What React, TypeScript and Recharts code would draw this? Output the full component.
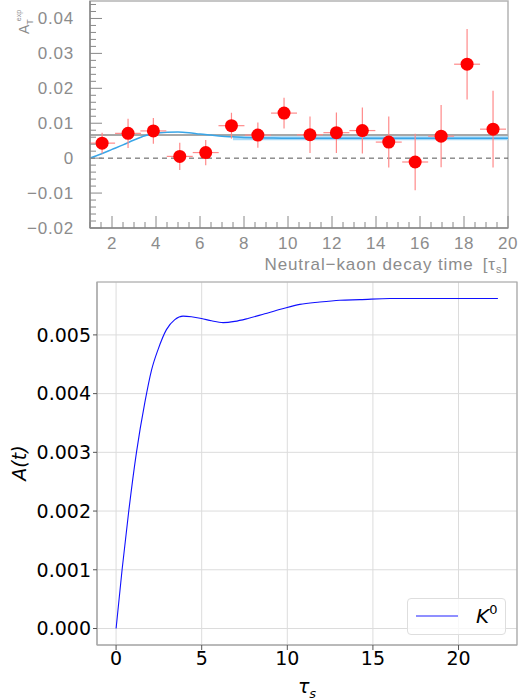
import React from 'react';
import {
  ComposedChart,
  LineChart,
  Line,
  Scatter,
  XAxis,
  YAxis,
  CartesianGrid,
  ReferenceLine,
  ReferenceArea,
  ErrorBar,
  Legend,
} from 'recharts';

// top panel: measured asymmetry per decay-time bin
const binCenters = [1.55, 2.73, 3.88, 5.08, 6.26, 7.43, 8.63, 9.82, 11.0, 12.2, 13.38, 14.58, 15.78, 16.96, 18.14, 19.32];
const asymmetry = [0.0043, 0.0071, 0.0078, 0.0005, 0.0016, 0.0093, 0.0066, 0.0129, 0.0067, 0.0073, 0.0079, 0.0046, -0.0011, 0.0063, 0.0269, 0.0083];
const asymmetryErr = [0.003, 0.0042, 0.0037, 0.0039, 0.0036, 0.0037, 0.0036, 0.0044, 0.0052, 0.0058, 0.0066, 0.0073, 0.0081, 0.0089, 0.0101, 0.011];
const binHalfWidth = 0.59;

// top panel: expected curve and levels
const fitTime = [1, 1.5, 2, 2.5, 3, 3.5, 4, 4.5, 5, 5.5, 6, 6.5, 7, 7.5, 8, 9, 10, 20];
const fitValue = [0, 0.0012, 0.0025, 0.0038, 0.0052, 0.0064, 0.0071, 0.0074, 0.0075, 0.0073, 0.0069, 0.0066, 0.0063, 0.0061, 0.0059, 0.0058, 0.0057, 0.0057];
const bandTime = [7.5, 20];
const bandLevel = 0.0057;
const meanLevel = 0.00665;

const topMajorX = [2, 4, 6, 8, 10, 12, 14, 16, 18, 20];

// bottom panel: A(t) for K0
const tauS = [0, 0.35, 0.74, 1.19, 1.68, 2.07, 2.45, 2.94, 3.43, 3.91, 4.4, 4.99, 5.57, 6.25, 6.93, 7.7, 8.68, 9.66, 10.73, 11.9, 13.07, 14.24, 16, 18, 20, 22.3];
const aT = [0, 0.001, 0.002, 0.003, 0.00385, 0.0044, 0.00475, 0.00509, 0.00526, 0.00532, 0.00531, 0.00528, 0.00524, 0.00521, 0.00523, 0.00528, 0.00536, 0.00544, 0.00552, 0.00556, 0.00559, 0.0056, 0.00562, 0.00562, 0.00562, 0.00562];
const bottomXTicks = [0, 5, 10, 15, 20];
const bottomYTicks = [0, 0.001, 0.002, 0.003, 0.004, 0.005];

const points = binCenters.map((x, i) => ({ x, y: asymmetry[i], ex: binHalfWidth, ey: asymmetryErr[i] }));
const fitData = fitTime.map((x, i) => ({ x, y: fitValue[i] }));
const bandData = bandTime.map((x) => ({ x, y: bandLevel }));
const kaonData = tauS.map((t, i) => ({ t, a: aT[i] }));

const topXTicks: number[] = [];
for (let i = 0; i <= 38; i++) topXTicks.push(1 + i * 0.5);
const topYTicks: number[] = [];
for (let i = -10; i <= 22; i++) topYTicks.push(Math.round(i * 2) / 1000);

const ROOT_GRAY = '#8c8c8c';
const ROOT_FONT = '"Liberation Sans", Arial, sans-serif';
const MPL_FONT = '"DejaVu Sans", sans-serif';

const RootXTick = (props: any) => {
  const { x, y, payload } = props;
  const v = payload.value;
  const major = topMajorX.includes(v);
  return (
    <g>
      <line x1={x} x2={x} y1={y} y2={y - (major ? 12 : 6)} stroke="#888" />
      {major && (
        <text x={x} y={y + 21} textAnchor="middle" fill={ROOT_GRAY} fontSize={17} letterSpacing={0.6} fontFamily={ROOT_FONT}>
          {v}
        </text>
      )}
    </g>
  );
};

const RootYTick = (props: any) => {
  const { x, y, payload } = props;
  const v = payload.value;
  const milli = Math.round(v * 1000);
  const major = milli % 10 === 0;
  const label = milli === 0 ? '0' : v.toFixed(2).replace('-', '\u2212');
  return (
    <g>
      <line x1={x} x2={x + (major ? 12 : 6)} y1={y} y2={y} stroke="#888" />
      {major && (
        <text x={x - 16} y={y + 6} textAnchor="end" fill={ROOT_GRAY} fontSize={17} letterSpacing={0.8} fontFamily={ROOT_FONT}>
          {label}
        </text>
      )}
    </g>
  );
};

const TopYTitle = () => (
  <text transform="translate(29, 34) rotate(-90)" fill={ROOT_GRAY} fontSize={14} fontFamily={ROOT_FONT}>
    A
    <tspan fontSize={9} dy={4}>T</tspan>
    <tspan fontSize={7} dy={-12} dx={-2}>exp</tspan>
  </text>
);

const TopXTitle = () => (
  <text x={508} y={270} textAnchor="end" fill={ROOT_GRAY} fontSize={17} letterSpacing={0.9} fontFamily={ROOT_FONT}>
    Neutral−kaon decay time
    <tspan dx={9}>[τ</tspan>
    <tspan fontSize={11} dy={3}>s</tspan>
    <tspan dy={-3}>]</tspan>
  </text>
);

const KaonLegend = () => (
  <div
    style={{
      width: 99,
      height: 37,
      boxSizing: 'border-box',
      border: '1px solid #dedede',
      borderRadius: 4,
      background: 'rgba(255,255,255,0.8)',
      position: 'relative',
    }}
  >
    <svg width={99} height={37} style={{ position: 'absolute', left: 0, top: 0 }}>
      <line x1={8} x2={50} y1={17} y2={17} stroke="#6a6aff" strokeWidth={1.5} />
      <text x={68} y={24} fontSize={20} fontStyle="italic" fontFamily={MPL_FONT} fill="#000">
        K<tspan fontSize={13} dy={-9} fontStyle="normal">0</tspan>
      </text>
    </svg>
  </div>
);

export default function App() {
  return (
    <div style={{ position: 'absolute', left: 0, top: 0, width: 518, height: 700, background: '#fff' }}>
      <div style={{ position: 'absolute', left: 0, top: 0 }}>
        <ComposedChart width={518} height={275} margin={{ top: 1, right: 10, bottom: 0, left: 0 }}>
          <ReferenceArea x1={1} x2={20} y1={-0.02} y2={0.045} fill="none" stroke="#b4b4b4" strokeWidth={1.5} />
          <XAxis
            type="number"
            scale="linear"
            dataKey="x"
            domain={[1, 20]}
            ticks={topXTicks}
            interval={0}
            tickSize={0}
            tickMargin={0}
            tickLine={false}
            tick={<RootXTick />}
            axisLine={{ stroke: '#888', strokeWidth: 1.5 }}
            height={47}
            allowDataOverflow
            label={{ content: () => <TopXTitle /> }}
          />
          <YAxis
            type="number"
            scale="linear"
            dataKey="y"
            domain={[-0.02, 0.045]}
            ticks={topYTicks}
            interval={0}
            tickSize={0}
            tickMargin={0}
            tickLine={false}
            tick={<RootYTick />}
            axisLine={{ stroke: '#888', strokeWidth: 1.5 }}
            width={90}
            allowDataOverflow
            label={{ content: () => <TopYTitle /> }}
          />
          <ReferenceLine y={0} stroke="#555" strokeDasharray="5 4" />
          <ReferenceLine y={meanLevel} stroke="#a8a8a8" strokeWidth={2} />
          <Line
            data={bandData}
            dataKey="y"
            type="linear"
            stroke="#a6d9f7"
            strokeWidth={4}
            dot={false}
            activeDot={false}
            isAnimationActive={false}
          />
          <Line
            data={fitData}
            dataKey="y"
            type="monotone"
            stroke="#3aa6e8"
            strokeWidth={1.5}
            dot={false}
            activeDot={false}
            isAnimationActive={false}
          />
          <Scatter
            data={points}
            dataKey="y"
            isAnimationActive={false}
            shape={(p: any) => <circle cx={p.cx} cy={p.cy} r={6.5} fill="#ff0000" />}
          >
            <ErrorBar dataKey="ey" direction="y" width={0} stroke="#ff8a8a" strokeWidth={1.2} />
            <ErrorBar dataKey="ex" direction="x" width={0} stroke="#ff8a8a" strokeWidth={1.2} />
          </Scatter>
        </ComposedChart>
      </div>

      <div style={{ position: 'absolute', left: 0, top: 270 }}>
        <LineChart width={518} height={430} data={kaonData} margin={{ top: 12, right: 1, bottom: 0, left: 0 }}>
          <CartesianGrid stroke="#dcdcdc" />
          <ReferenceArea
            x1={-1.115}
            x2={23.415}
            y1={-0.000281}
            y2={0.005901}
            fill="none"
            stroke="#a8a8a8"
            strokeWidth={1.2}
          />
          <XAxis
            type="number"
            scale="linear"
            dataKey="t"
            domain={[-1.115, 23.415]}
            ticks={bottomXTicks}
            interval={0}
            tickSize={5}
            tickMargin={2}
            tickLine={{ stroke: '#555' }}
            axisLine={{ stroke: '#a8a8a8' }}
            tick={{ fill: '#000', fontSize: 19, fontFamily: MPL_FONT }}
            height={55}
            allowDataOverflow
            label={{
              content: () => (
                <text x={307} y={423} textAnchor="middle" fontSize={19} fontFamily={MPL_FONT} fill="#000">
                  <tspan fontStyle="italic">τ</tspan>
                  <tspan fontStyle="italic" fontSize={13} dy={5}>s</tspan>
                </text>
              ),
            }}
          />
          <YAxis
            type="number"
            scale="linear"
            domain={[-0.000281, 0.005901]}
            ticks={bottomYTicks}
            interval={0}
            tickSize={4}
            tickMargin={2}
            tickLine={{ stroke: '#555' }}
            axisLine={{ stroke: '#a8a8a8' }}
            tick={{ fill: '#000', fontSize: 19, fontFamily: MPL_FONT }}
            tickFormatter={(v: number) => v.toFixed(3)}
            width={97}
            allowDataOverflow
            label={{
              content: () => (
                <text
                  transform="translate(26, 193) rotate(-90)"
                  textAnchor="middle"
                  fontSize={19}
                  fontStyle="italic"
                  fontFamily={MPL_FONT}
                  fill="#000"
                >
                  A(t)
                </text>
              ),
            }}
          />
          <Line
            dataKey="a"
            type="monotone"
            stroke="#1010ff"
            strokeWidth={1.1}
            dot={false}
            activeDot={false}
            isAnimationActive={false}
          />
          <Legend
            layout="horizontal"
            verticalAlign="middle"
            align="center"
            wrapperStyle={{ position: 'absolute', left: 407, top: 328, width: 99, height: 37 }}
            content={() => <KaonLegend />}
          />
        </LineChart>
      </div>
    </div>
  );
}
